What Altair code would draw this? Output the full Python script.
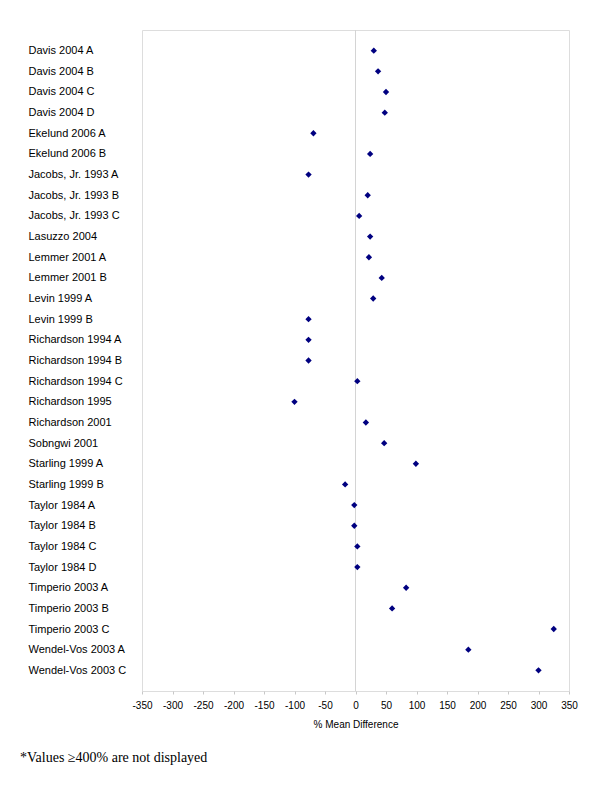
import altair as alt
import pandas as pd

studies = [
    "Davis 2004 A", "Davis 2004 B", "Davis 2004 C", "Davis 2004 D",
    "Ekelund 2006 A", "Ekelund 2006 B",
    "Jacobs, Jr. 1993 A", "Jacobs, Jr. 1993 B", "Jacobs, Jr. 1993 C",
    "Lasuzzo 2004", "Lemmer 2001 A", "Lemmer 2001 B",
    "Levin 1999 A", "Levin 1999 B",
    "Richardson 1994 A", "Richardson 1994 B", "Richardson 1994 C",
    "Richardson 1995", "Richardson 2001", "Sobngwi 2001",
    "Starling 1999 A", "Starling 1999 B",
    "Taylor 1984 A", "Taylor 1984 B", "Taylor 1984 C", "Taylor 1984 D",
    "Timperio 2003 A", "Timperio 2003 B", "Timperio 2003 C",
    "Wendel-Vos 2003 A", "Wendel-Vos 2003 C",
]
mean_diff = [
    30, 37, 50, 48,
    -69, 24,
    -77, 20, 6,
    24, 22, 43,
    29, -77,
    -77, -77, 3,
    -100, 17, 47,
    99, -17,
    -2, -2, 3, 3,
    83, 60, 325,
    185, 300,
]
x_ticks = list(range(-350, 351, 50))

df = pd.DataFrame({"study": studies, "diff": mean_diff})

x_scale = alt.Scale(domain=[-350, 350], nice=False, zero=False)
y_scale = alt.Scale(domain=studies, padding=1)

x_axis = alt.Axis(values=x_ticks, title="% Mean Difference",
                  labelExpr="'' + datum.value",
                  labelOverlap=False, labelFlush=False, labelBound=False,
                  grid=False, domain=False, tickColor="#c8c8c8",
                  tickSize=3, labelFont="Liberation Sans",
                  labelFontSize=10, labelColor="#000000",
                  labelPadding=6, titleFont="Liberation Sans",
                  titleFontSize=10, titleFontWeight="normal",
                  titleColor="#000000", titlePadding=9)

points = alt.Chart(df).mark_point(
    shape="diamond", filled=True, size=40, color="#000080", opacity=1
).encode(
    x=alt.X("diff:Q", scale=x_scale, axis=x_axis),
    y=alt.Y("study:N", scale=y_scale, sort=studies,
            axis=alt.Axis(title=None, ticks=False, domain=False, grid=False,
                          labelAlign="left", labelPadding=114,
                          labelFont="Liberation Sans", labelFontSize=11,
                          labelColor="#000000")),
)

zero_rule = alt.Chart(pd.DataFrame({"z": [0]})).mark_rule(
    color="#d4d4d4", strokeWidth=1
).encode(x=alt.X("z:Q", scale=x_scale, axis=x_axis))

chart = alt.layer(zero_rule, points).properties(
    width=427,
    height=661,
    padding={"left": 12, "top": 21, "right": 5, "bottom": 5},
    title=alt.TitleParams(
        text="*Values \u2265400% are not displayed",
        orient="bottom", anchor="start", frame="bounds",
        font="Liberation Serif", fontSize=14, fontWeight="normal",
        color="#000000", offset=22, dx=-8,
    ),
).configure_view(
    stroke="#808080", strokeWidth=1.5
).configure_axisX(
    labelOverlap=False
).configure(background="white")

chart.save("out.html", embed_options={"renderer": "svg", "actions": False})
